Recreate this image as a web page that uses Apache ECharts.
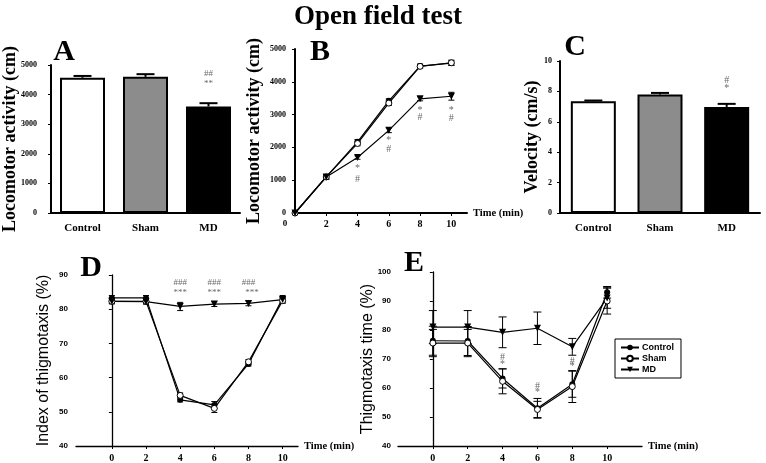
<!DOCTYPE html>
<html>
<head>
<meta charset="utf-8">
<script src="https://cdn.jsdelivr.net/npm/echarts@6/dist/echarts.min.js"></script>
<style>
  html, body { margin: 0; padding: 0; background: #fff; }
  #chart { width: 766px; height: 463px; }
</style>
</head>
<body>
<div id="chart"></div>
<script>
// 组别
const groups = ['Control', 'Sham', 'MD']
const barColors = ['#ffffff', '#8c8c8c', '#000000']

// A 总运动距离 (cm)
const activityMean = [4570, 4600, 3600]
const activitySem = [60, 90, 110]
// C 速度 (cm/s)
const velocityMean = [7.35, 7.8, 6.98]
const velocitySem = [0.05, 0.1, 0.2]

// B 累计运动距离
const timeB = [0, 2, 4, 6, 8, 10]
const cumControl = [0, 1100, 2170, 3420, 4480, 4570]
const cumSham = [0, 1100, 2120, 3350, 4470, 4580]
const cumMD = [0, 1100, 1690, 2520, 3480, 3560]
const cumControlSem = [0, 70, 70, 60, 60, 70]
const cumShamSem = [0, 70, 70, 70, 60, 80]
const cumMDSem = [0, 70, 50, 70, 60, 120]

// D 趋触性指数 (%)
const timeD = [0, 2, 4, 6, 8, 10]
const idxControl = [83.3, 83.3, 53.5, 52.0, 64.0, 83.2]
const idxSham = [82.3, 82.3, 54.8, 51.0, 64.6, 82.5]
const idxMD = [82.3, 82.2, 80.8, 81.5, 81.7, 82.8]
const idxControlSem = [0.7, 0.7, 0.6, 1.0, 0.6, 0.8]
const idxShamSem = [0.7, 0.7, 0.7, 1.2, 0.7, 0.8]
const idxMDSem = [0.7, 0.7, 1.2, 0.7, 0.7, 0.8]

// E 趋触时间 (%)
const timeE = [0, 2, 4, 6, 8, 10]
const thControl = [76.3, 76.2, 63.3, 53.0, 61.3, 93.0]
const thSham = [75.5, 75.5, 62.3, 52.6, 60.5, 90.0]
const thMD = [81.0, 81.0, 79.2, 80.6, 74.2, 91.0]
const thControlSem = [5.0, 5.0, 3.3, 3.4, 4.5, 2.0]
const thShamSem = [4.7, 4.7, 4.3, 2.8, 5.5, 4.5]
const thMDSem = [5.7, 5.7, 5.3, 5.6, 2.9, 3.5]

// 显著性标记 [x, y, 文本]
const annA = [[2, 4700, '##'], [2, 4370, '**']]
const annB = [[4, 1370, '*'], [4, 1040, '#'], [6, 2200, '*'], [6, 1950, '#'],
  [8, 3140, '*'], [8, 2930, '#'], [10, 3120, '*'], [10, 2900, '#']]
const annC = [[2, 8.75, '#'], [2, 8.2, '*']]
const annD = [[4, 87.8, '###'], [4, 84.8, '***'], [6, 87.8, '###'], [6, 84.8, '***'],
  [8, 87.8, '###'], [8.2, 84.8, '***']]
const annE = [[4, 70.4, '#'], [4, 68.1, '*'], [6, 60.7, '#'], [6, 58.4, '*'],
  [8, 69.3, '#'], [8, 67.3, '*']]

const tickValues = [0, 2, 4, 6, 8, 10]
const SERIF = 'Liberation Serif'
const SANS = 'Liberation Sans'

const markStyles = {
  Control: { symbol: 'circle', symbolSize: 6, itemStyle: { color: '#000' } },
  Sham: { symbol: 'circle', symbolSize: 6, itemStyle: { color: '#fff', borderColor: '#000', borderWidth: 1 } },
  MD: { symbol: 'triangle', symbolSize: 7, symbolRotate: 180, itemStyle: { color: '#000' } }
}

function lineSeries(name, idx, xs, ys) {
  return Object.assign({
    type: 'line',
    name: name,
    xAxisIndex: idx,
    yAxisIndex: idx,
    data: xs.map((x, i) => [x, ys[i]]),
    lineStyle: { color: '#000', width: 1.2 },
    z: 3
  }, markStyles[name])
}

function errSeries(idx, xs, means, errs, cap, upOnly, width) {
  return {
    type: 'custom',
    xAxisIndex: idx,
    yAxisIndex: idx,
    silent: true,
    z: 2,
    data: xs.map((x, i) => [x, upOnly ? means[i] : means[i] - errs[i], means[i] + errs[i]]),
    renderItem: function (params, api) {
      const lo = api.coord([api.value(0), api.value(1)])
      const hi = api.coord([api.value(0), api.value(2)])
      const style = { stroke: '#000', lineWidth: width || 1 }
      const children = [
        { type: 'line', shape: { x1: lo[0], y1: lo[1], x2: hi[0], y2: hi[1] }, style: style },
        { type: 'line', shape: { x1: hi[0] - cap, y1: hi[1], x2: hi[0] + cap, y2: hi[1] }, style: style }
      ]
      if (!upOnly) {
        children.push({ type: 'line', shape: { x1: lo[0] - cap, y1: lo[1], x2: lo[0] + cap, y2: lo[1] }, style: style })
      }
      return { type: 'group', children: children }
    }
  }
}

function annSeries(idx, data, size) {
  return {
    type: 'scatter',
    xAxisIndex: idx,
    yAxisIndex: idx,
    symbolSize: 1,
    itemStyle: { color: 'rgba(0,0,0,0)' },
    silent: true,
    z: 4,
    data: data,
    label: {
      show: true,
      position: 'inside',
      formatter: p => p.value[2],
      fontFamily: SERIF,
      fontSize: size || 10,
      color: '#444'
    }
  }
}

function barSeries(idx, means) {
  return {
    type: 'bar',
    xAxisIndex: idx,
    yAxisIndex: idx,
    barWidth: 45,
    z: 1,
    data: means.map((v, i) => ({ value: v, itemStyle: { color: barColors[i] } })),
    itemStyle: { borderColor: '#000', borderWidth: 2 }
  }
}

function catAxis(grid) {
  return {
    type: 'category',
    gridIndex: grid,
    data: groups,
    axisLine: { lineStyle: { color: '#000', width: 2 } },
    axisTick: { alignWithLabel: true, length: 4, lineStyle: { color: '#000', width: 1.5 } },
    axisLabel: { color: '#000', fontFamily: SERIF, fontWeight: 'bold', fontSize: 11, margin: 10 }
  }
}

function timeAxis(grid, min, max, width, extra) {
  return Object.assign({
    type: 'value',
    gridIndex: grid,
    min: min,
    max: max,
    name: 'Time (min)',
    nameLocation: 'end',
    nameGap: 6,
    nameTextStyle: { color: '#000', fontFamily: SERIF, fontWeight: 'bold', fontSize: 10.5 },
    splitLine: { show: false },
    axisLine: { lineStyle: { color: '#000', width: width } },
    axisTick: { customValues: tickValues, length: 3, lineStyle: { color: '#000' } },
    axisLabel: { customValues: tickValues, color: '#000', fontFamily: SERIF, fontWeight: 'bold', fontSize: 10, margin: 7 }
  }, extra || {})
}

function valAxis(grid, min, max, interval, name, nameGap, opts) {
  return {
    type: 'value',
    gridIndex: grid,
    min: min,
    max: max,
    interval: interval,
    name: name,
    nameLocation: 'middle',
    nameGap: nameGap,
    nameMoveOverlap: false,
    nameTextStyle: opts.nameStyle,
    splitLine: { show: false },
    axisLine: { show: true, lineStyle: { color: '#000', width: opts.width } },
    axisTick: { show: true, length: 3, lineStyle: { color: '#000' } },
    axisLabel: Object.assign({
      color: '#000', fontWeight: 'bold', fontSize: 8, margin: opts.margin,
      formatter: v => String(v)
    }, opts.label)
  }
}

const serifName = { color: '#000', fontFamily: SERIF, fontWeight: 'bold', fontSize: 18 }
const sansName = { color: '#000', fontFamily: SANS, fontSize: 16 }

const letters = [['A', 64, 52], ['B', 320, 52], ['C', 575, 47], ['D', 91, 268], ['E', 414, 263]]

const option = {
  animation: false,
  backgroundColor: '#fff',
  title: {
    text: 'Open field test',
    left: 289,
    top: -1,
    textStyle: { color: '#000', fontFamily: SERIF, fontWeight: 'bold', fontSize: 27 }
  },
  graphic: letters.map(l => ({
    type: 'text',
    x: l[1],
    y: l[2],
    style: { text: l[0], align: 'center', verticalAlign: 'middle', fill: '#000', font: 'bold 30px "Liberation Serif"' }
  })),
  legend: {
    data: groups,
    orient: 'vertical',
    left: 615,
    top: 339,
    itemWidth: 18,
    itemHeight: 7,
    itemGap: 2,
    padding: [4, 7, 4, 5],
    borderColor: '#000',
    borderWidth: 1,
    textStyle: { color: '#000', fontFamily: SANS, fontWeight: 'bold', fontSize: 9, padding: [0, 0, 0, -2] }
  },
  grid: [
    { left: 47, top: 65, width: 193, height: 148 },
    { left: 295, top: 49, width: 172, height: 164 },
    { left: 560, top: 61, width: 200, height: 152 },
    { left: 76, top: 275, width: 222, height: 175 },
    { left: 398, top: 272, width: 244, height: 175 }
  ],
  xAxis: [
    catAxis(0),
    timeAxis(1, 0, 11, 2, {
      axisLabel: {
        customValues: tickValues, color: '#000', fontFamily: SERIF, fontWeight: 'bold', fontSize: 10, margin: 6,
        formatter: v => v === 0 ? '{z|0}' : String(v),
        rich: { z: { fontFamily: SERIF, fontWeight: 'bold', fontSize: 9, padding: [0, 20, 0, 0] } }
      }
    }),
    catAxis(2),
    timeAxis(3, -2.1, 10.9, 1.3),
    timeAxis(4, -2, 12, 1.3)
  ],
  yAxis: [
    valAxis(0, 0, 5000, 1000, 'Locomotor activity (cm)', 32, { nameStyle: serifName, width: 2, margin: 14, label: { fontFamily: SERIF } }),
    valAxis(1, 0, 5000, 1000, 'Locomotor activity (cm)', 32, { nameStyle: serifName, width: 2, margin: 9, label: { fontFamily: SERIF } }),
    valAxis(2, 0, 10, 2, 'Velocity (cm/s)', 19, { nameStyle: serifName, width: 2, margin: 8, label: { fontFamily: SERIF } }),
    valAxis(3, 40, 90, 10, 'Index of thigmotaxis (%)', 24, { nameStyle: sansName, width: 1.3, margin: 8, label: { fontFamily: SANS } }),
    valAxis(4, 40, 100, 10, 'Thigmotaxis time (%)', 22, { nameStyle: sansName, width: 1.3, margin: 7, label: { fontFamily: SANS } })
  ],
  series: [
    // A
    barSeries(0, activityMean),
    errSeries(0, [0, 1, 2], activityMean, activitySem, 9, true, 2),
    annSeries(0, annA, 9),
    // B
    errSeries(1, timeB, cumControl, cumControlSem, 3, false),
    errSeries(1, timeB, cumSham, cumShamSem, 3, false),
    errSeries(1, timeB, cumMD, cumMDSem, 3, false),
    lineSeries('Control', 1, timeB, cumControl),
    lineSeries('Sham', 1, timeB, cumSham),
    lineSeries('MD', 1, timeB, cumMD),
    annSeries(1, annB, 10),
    // C
    barSeries(2, velocityMean),
    errSeries(2, [0, 1, 2], velocityMean, velocitySem, 9, true, 2),
    annSeries(2, annC, 10),
    // D
    errSeries(3, timeD, idxControl, idxControlSem, 3, false),
    errSeries(3, timeD, idxSham, idxShamSem, 3, false),
    errSeries(3, timeD, idxMD, idxMDSem, 3, false),
    lineSeries('Control', 3, timeD, idxControl),
    lineSeries('Sham', 3, timeD, idxSham),
    lineSeries('MD', 3, timeD, idxMD),
    annSeries(3, annD, 9),
    // E
    errSeries(4, timeE, thControl, thControlSem, 4, false),
    errSeries(4, timeE, thSham, thShamSem, 4, false),
    errSeries(4, timeE, thMD, thMDSem, 4, false),
    lineSeries('Control', 4, timeE, thControl),
    lineSeries('Sham', 4, timeE, thSham),
    lineSeries('MD', 4, timeE, thMD),
    annSeries(4, annE, 10)
  ]
}

const myChart = echarts.init(document.getElementById('chart'))
myChart.setOption(option)
</script>
</body>
</html>
